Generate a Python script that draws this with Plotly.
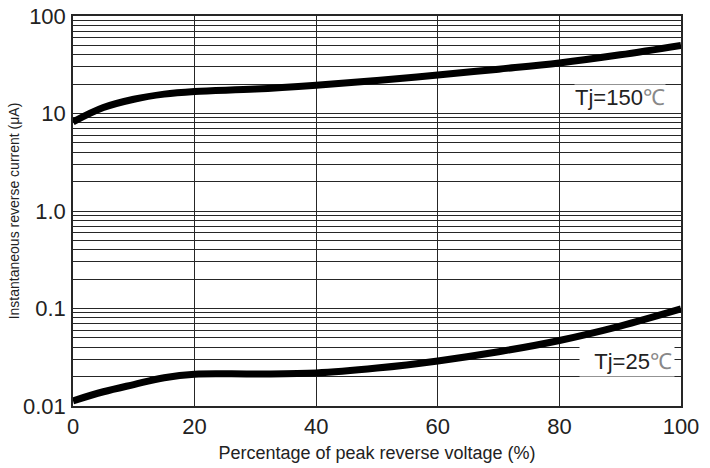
import plotly.graph_objects as go

# data
x_pct = [0, 5, 10, 15, 20, 30, 40, 50, 60, 70, 80, 90, 100]
i_150 = [8.2, 11.5, 14.0, 15.8, 16.8, 17.8, 19.5, 21.8, 24.8, 28.5, 33.0, 40.0, 50.0]
i_25 = [0.0113, 0.0140, 0.0166, 0.0195, 0.0212, 0.0213, 0.0218, 0.0245, 0.0290, 0.0360, 0.0470, 0.0660, 0.0990]

y_tickvals = [0.01, 0.1, 1, 10, 100]
y_ticktext = ["0.01", "0.1", "1.0", "10", "100"]
x_tickvals = [0, 20, 40, 60, 80, 100]

FONT = "Arial"
GRID = "#262626"

fig = go.Figure()
fig.add_trace(go.Scatter(x=x_pct, y=i_150, mode="lines", line=dict(color="black", width=7, shape="spline", smoothing=1.0), showlegend=False))
fig.add_trace(go.Scatter(x=x_pct, y=i_25, mode="lines", line=dict(color="black", width=7, shape="spline", smoothing=1.0), showlegend=False))

fig.add_annotation(x=97.5, y=1.16, xref="x", yref="y", text="Tj=150<span style='color:#888'>℃</span>",
                   showarrow=False, xanchor="right", yanchor="middle",
                   font=dict(family=FONT, size=22, color="#222"), bgcolor="white", borderpad=0)
fig.add_annotation(x=99, y=-1.54, xref="x", yref="y", text="\u00a0\u00a0Tj=25<span style='color:#888'>℃</span>",
                   showarrow=False, xanchor="right", yanchor="middle",
                   font=dict(family=FONT, size=22, color="#222"), bgcolor="white", borderpad=2)

fig.update_layout(
    width=710, height=468,
    margin=dict(l=73, r=29, t=16, b=62, autoexpand=False),
    paper_bgcolor="white", plot_bgcolor="white",
    font=dict(family=FONT, color="#222"),
    xaxis=dict(range=[0, 100], tickvals=x_tickvals, showgrid=True, gridcolor=GRID, gridwidth=1.2,
               showline=True, linecolor=GRID, linewidth=1.5, mirror=True, zeroline=False, automargin=False,
               ticks="", tickfont=dict(size=22, family=FONT, color="#222"),
               title=dict(text="Percentage of peak reverse voltage (%)", font=dict(size=18, family=FONT, color="#222"), standoff=8)),
    yaxis=dict(type="log", range=[-2, 2], tickvals=y_tickvals, ticktext=y_ticktext,
               showgrid=True, gridcolor=GRID, gridwidth=1.2,
               minor=dict(dtick="D1", showgrid=True, gridcolor=GRID, gridwidth=1.2, ticks=""),
               showline=True, linecolor=GRID, linewidth=1.5, mirror=True, zeroline=False, automargin=False,
               ticks="", ticklabelstandoff=1, tickfont=dict(size=22, family=FONT, color="#222"),
               title=dict(text="Instantaneous reverse current (μA)", font=dict(size=14, family=FONT, color="#222"), standoff=0)),
)

fig.write_html("out.html")
